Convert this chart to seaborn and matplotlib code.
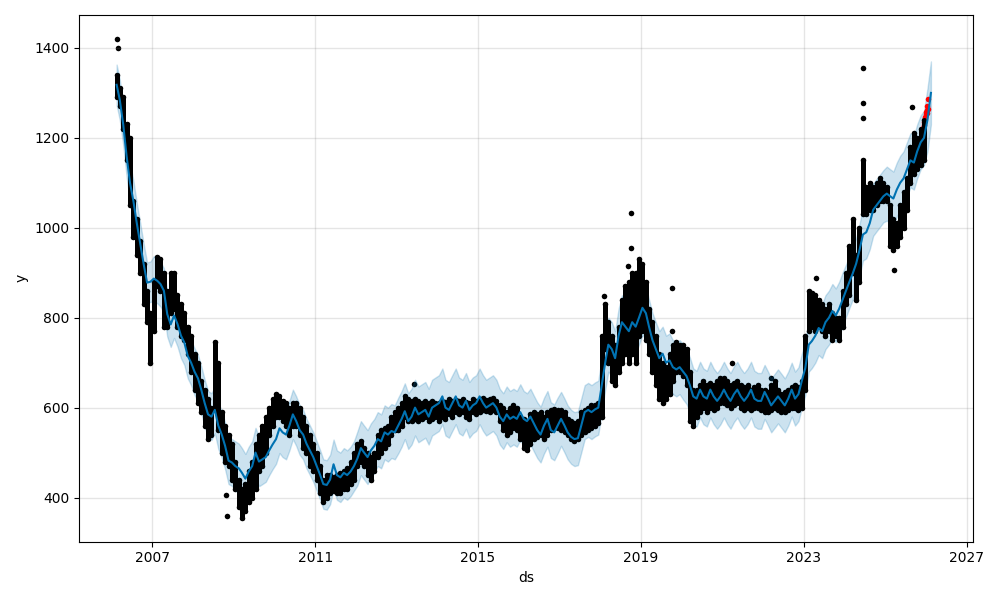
import matplotlib
matplotlib.use("Agg")
import matplotlib.pyplot as plt
import numpy as np
import pandas as pd
import seaborn as sns

# monthly range of the daily observations, Feb 2006 .. Dec 2025
obs_lo = [
    1290, 1270, 1220, 1150, 1050, 980, 940, 900, 830, 790, 700,           # 2006 (from Feb)
    770, 870, 860, 780, 780, 810, 820, 780, 760, 750, 720, 680,           # 2007
    640, 610, 590, 560, 530, 540, 600, 550, 500, 480, 470, 440,           # 2008
    420, 380, 355, 370, 390, 400, 420, 460, 470, 500, 540, 560,           # 2009
    580, 580, 570, 560, 540, 560, 560, 540, 510, 500, 470, 460,           # 2010
    440, 410, 390, 400, 410, 415, 410, 410, 420, 420, 430, 440,           # 2011
    470, 480, 470, 450, 440, 460, 490, 500, 510, 520, 540, 550,           # 2012
    550, 560, 580, 570, 570, 575, 570, 575, 580, 570, 575, 580,           # 2013
    570, 580, 575, 585, 580, 590, 585, 590, 580, 575, 590, 585,           # 2014
    590, 595, 592, 590, 595, 590, 570, 550, 540, 545, 555, 550,           # 2015
    530, 510, 505, 520, 530, 535, 540, 530, 540, 550, 555, 555,           # 2016
    550, 545, 540, 530, 525, 530, 540, 545, 550, 555, 560, 565,           # 2017
    580, 730, 700, 660, 650, 680, 700, 720, 700, 720, 700, 760,           # 2018
    770, 750, 720, 680, 650, 620, 610, 620, 630, 660, 680, 680,           # 2019
    670, 650, 570, 560, 580, 590, 600, 590, 600, 595, 600, 610,           # 2020
    610, 605, 600, 605, 610, 600, 595, 600, 595, 600, 600, 595,           # 2021
    590, 590, 595, 600, 595, 590, 590, 595, 600, 600, 595, 600,           # 2022
    640, 770, 780, 770, 780, 770, 760, 770, 750, 760, 750, 780,           # 2023
    830, 850, 900, 840, 880, 1030, 1030, 1040, 1040, 1050, 1060, 1060,    # 2024
    1060, 960, 950, 960, 980, 1000, 1040, 1100, 1120, 1130, 1140, 1150,   # 2025
]
obs_hi = [
    1340, 1310, 1290, 1230, 1200, 1060, 1020, 970, 920, 860, 810,
    880, 935, 930, 900, 860, 900, 900, 850, 830, 810, 780, 760,
    720, 700, 660, 640, 620, 600, 745, 700, 590, 560, 540, 520,
    480, 440, 420, 430, 460, 480, 520, 540, 560, 580, 600, 620,
    630, 625, 615, 610, 600, 610, 610, 600, 580, 560, 540, 520,
    500, 470, 440, 450, 450, 445, 450, 455, 460, 465, 480, 500,
    520, 525, 510, 500, 490, 500, 540, 550, 555, 560, 580, 590,
    600, 610, 625, 620, 615, 620, 615, 610, 615, 610, 615, 610,
    610, 615, 612, 620, 615, 618, 615, 620, 612, 610, 620, 615,
    620, 622, 618, 620, 622, 615, 605, 600, 590, 600, 605, 600,
    580, 575, 570, 585, 590, 585, 590, 580, 590, 595, 598, 595,
    595, 590, 575, 570, 565, 570, 590, 595, 600, 605, 605, 610,
    760, 830, 790, 760, 740, 780, 840, 870, 880, 900, 900, 930,
    920, 880, 820, 790, 760, 720, 700, 690, 720, 740, 745, 740,
    740, 730, 680, 640, 640, 650, 660, 650, 655, 650, 660, 665,
    665, 660, 650, 655, 660, 650, 645, 650, 640, 645, 650, 640,
    640, 635, 650, 660, 640, 630, 635, 640, 645, 650, 645, 660,
    760, 860, 855, 850, 840, 830, 820, 830, 810, 800, 800, 860,
    900, 960, 1020, 940, 1000, 1150, 1090, 1100, 1090, 1100, 1110, 1100,
    1090, 1050, 1020, 1010, 1050, 1080, 1110, 1180, 1210, 1200, 1220, 1240,
]

# isolated daily spikes
outlier_dates = ["2006-02-20", "2006-02-27", "2008-10-25", "2008-11-05", "2013-06-05",
                 "2018-02-03", "2018-09-05", "2018-10-03", "2018-10-05", "2019-10-03",
                 "2019-10-06", "2021-03-25", "2022-03-15", "2023-04-25", "2024-06-14",
                 "2024-06-16", "2024-06-18", "2025-03-25", "2025-09-01"]
outlier_values = [1420, 1400, 405, 360, 652,
                  849, 916, 956, 1032, 867,
                  770, 700, 665, 889, 1355,
                  1277, 1244, 905, 1268]

# held-out points (red)
test_dates = ["2025-12-10", "2025-12-15", "2025-12-19", "2025-12-24", "2025-12-30",
              "2026-01-05", "2026-01-08", "2026-01-12", "2026-01-15", "2026-01-20",
              "2026-01-23"]
test_values = [1221, 1228, 1235, 1246, 1252, 1258, 1262, 1255, 1270, 1286, 1265]

# forecast, monthly Feb 2006 .. Feb 2026
yhat = [
    1318, 1285, 1230, 1160, 1100, 1060, 1010, 965, 920, 878, 880,
    887, 882, 875, 860, 808, 785, 805, 786, 760, 745, 715, 700,
    680, 665, 640, 610, 585, 580, 595, 560, 540, 515, 482, 478,
    470, 465, 455, 442, 458, 470, 500, 480, 485, 490, 505, 518,
    530, 554, 545, 540, 560, 585, 570, 550, 540, 520, 505, 490,
    470, 450, 430, 428, 440, 474, 450, 445, 455, 450, 458, 470,
    487, 510, 500, 490, 505, 515, 530, 525, 545, 540, 548, 545,
    560, 575, 592, 570, 580, 600, 585, 590, 595, 580, 600, 605,
    610, 625, 600, 595, 610, 625, 605, 600, 615, 595, 605, 610,
    625, 610, 600, 605, 610, 600, 580, 570, 585, 575, 580, 575,
    590, 575, 570, 580, 565, 550, 540, 560, 575, 550, 545, 560,
    575, 560, 545, 535, 530, 532, 560, 590, 595, 590, 596, 600,
    650, 700, 740, 730, 710, 760, 790, 780, 770, 790, 780, 800,
    822, 810, 780, 750, 730, 710, 720, 700, 705, 690, 685, 690,
    680, 670, 650, 625, 620, 640, 625, 620, 640, 625, 615, 625,
    640, 625, 615, 630, 640, 625, 615, 625, 640, 620, 615, 615,
    635, 620, 605, 615, 625, 615, 605, 620, 640, 620, 630, 660,
    688, 740, 748, 760, 777, 770, 790, 800, 815, 805, 820, 840,
    860, 880, 898, 920, 950, 985, 990, 1010, 1040, 1050, 1060, 1070,
    1076, 1070, 1065, 1085, 1100, 1110, 1130, 1150, 1145, 1170, 1190, 1200,
    1240, 1300,
]
# uncertainty half-width per calendar year, 2006 .. 2026
band_years = list(range(2006, 2027))
band_halfwidth = [45, 50, 52, 55, 55, 55, 60, 62, 62, 62, 62, 60, 60, 60, 62, 62, 60, 60, 58, 60, 70]

tick_years = [2007, 2011, 2015, 2019, 2023, 2027]

obs_ds = pd.date_range("2006-02-01", periods=len(obs_lo), freq="MS") + pd.Timedelta(days=14)
fc = pd.DataFrame({"ds": pd.date_range("2006-02-01", periods=len(yhat), freq="MS") + pd.Timedelta(days=14),
                   "yhat": yhat})
hw = dict(zip(band_years, band_halfwidth))
fc["half"] = fc["ds"].dt.year.map(hw)
fc["lower"] = fc["yhat"] - fc["half"]
fc["upper"] = fc["yhat"] + fc["half"]

points = pd.concat([
    pd.DataFrame({"ds": obs_ds, "y": obs_lo}),
    pd.DataFrame({"ds": obs_ds, "y": obs_hi}),
    pd.DataFrame({"ds": pd.to_datetime(outlier_dates), "y": outlier_values}),
], ignore_index=True)
test = pd.DataFrame({"ds": pd.to_datetime(test_dates), "y": test_values})

fig, ax = plt.subplots(figsize=(10, 6), dpi=100)

# dense daily observations: monthly spread as thick columns plus the dots
lc = ax.vlines(obs_ds, obs_lo, obs_hi, colors="k", linewidth=3.6)
lc.set_capstyle("round")
sns.scatterplot(data=points, x="ds", y="y", color="k", s=16, linewidth=0, ax=ax)

sns.lineplot(data=fc, x="ds", y="yhat", color="#0072B2", linewidth=1.5, ax=ax)
ax.fill_between(fc["ds"], fc["lower"], fc["upper"], color="#0072B2", alpha=0.2)

sns.scatterplot(data=test, x="ds", y="y", color="red", s=16, linewidth=0, ax=ax)

ax.set_xticks(pd.to_datetime([f"{y}-01-01" for y in tick_years]))
ax.set_xticklabels([str(y) for y in tick_years])
ax.grid(True, which="major", c="gray", ls="-", lw=1, alpha=0.2)
ax.set_xlabel("ds")
ax.set_ylabel("y")
ax.set_xlim(pd.Timestamp("2005-03-18"), pd.Timestamp("2027-03-03"))
fig.tight_layout()
fig.savefig("out.png", dpi=100)
